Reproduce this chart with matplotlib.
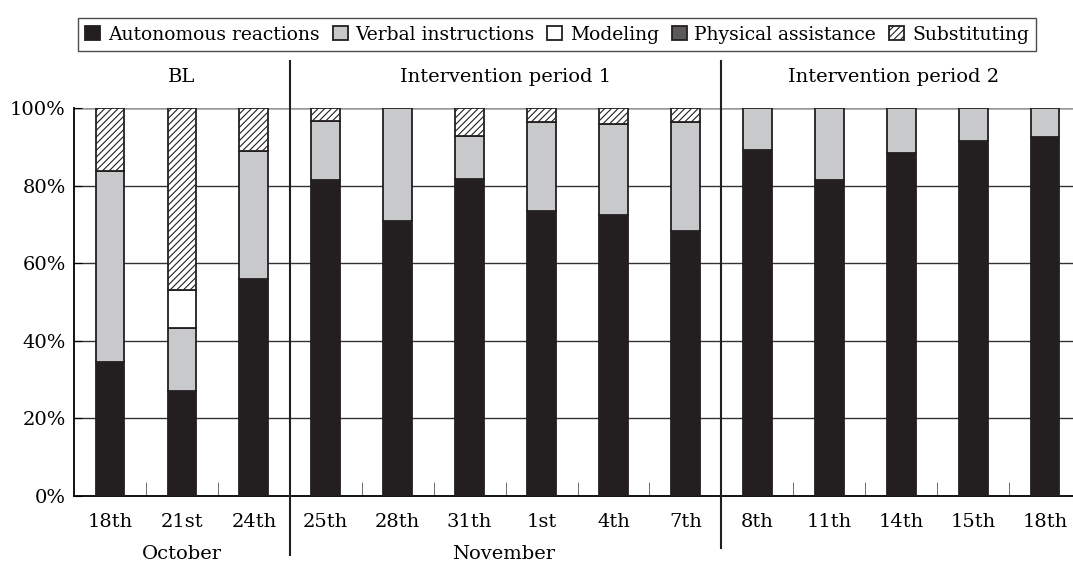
# Stacked percentage bars by session date
import numpy as np
import matplotlib.pyplot as plt

plt.rcParams['font.family'] = ['DejaVu Serif']

days = ['18th', '21st', '24th', '25th', '28th', '31th', '1st', '4th', '7th',
        '8th', '11th', '14th', '15th', '18th']
autonomous = [34.5, 27.1, 56.0, 81.4, 70.8, 81.8, 73.5, 72.5, 68.2,
              89.2, 81.5, 88.4, 91.5, 92.5]
verbal = [49.3, 16.1, 33.0, 15.2, 29.2, 10.9, 23.0, 23.3, 28.3,
          10.8, 18.5, 11.6, 8.5, 7.5]
modeling = [0, 10.0, 0, 0, 0, 0, 0, 0, 0, 0, 0, 0, 0, 0]
physical = [0, 0, 0, 0, 0, 0, 0, 0, 0, 0, 0, 0, 0, 0]
substituting = [16.2, 46.8, 11.0, 3.4, 0, 7.3, 3.5, 4.2, 3.5,
                0, 0, 0, 0, 0]

series = [('Autonomous reactions', autonomous, '#231f20', None),
          ('Verbal instructions', verbal, '#c8c9ca', None),
          ('Modeling', modeling, 'white', None),
          ('Physical assistance', physical, '#5a5a5a', None),
          ('Substituting', substituting, 'white', '/////')]

periods = ['BL', 'Intervention period 1', 'Intervention period 2']
months = ['October', 'November']

fig = plt.figure(figsize=(10.73, 5.69), dpi=100)
ax = fig.add_axes([0.069, 0.1283, 0.9385, 0.6819])

x = np.arange(len(days))
bottom = np.zeros(len(days))
plt.rcParams['hatch.linewidth'] = 0.8
handles = []
for name, vals, col, hatch in series:
    vals = np.array(vals, dtype=float)
    mask = vals > 0
    ax.bar(x[mask], vals[mask], 0.4, bottom=bottom[mask], color=col,
           edgecolor='#231f20', linewidth=1.3, hatch=hatch, zorder=3)
    h = plt.Rectangle((0, 0), 1, 1, facecolor=col, edgecolor='#231f20',
                      linewidth=1.3, hatch=hatch)
    handles.append((h, name))
    bottom += vals

ax.set_xlim(-0.5, 13.5)
ax.set_ylim(0, 100)
ax.set_yticks([0, 20, 40, 60, 80, 100])
ax.set_yticklabels(['0%', '20%', '40%', '60%', '80%', '100%'], fontsize=14)
for yv in [20, 40, 60, 80]:
    ax.axhline(yv, color='#333333', linewidth=1.0, zorder=1)
ax.axhline(100, color='#999999', linewidth=1.8, zorder=1)

ax.set_xticks(x)
ax.set_xticklabels(days, fontsize=14)
ax.set_xticks(np.arange(0.5, 13.5, 1), minor=True)
ax.tick_params(axis='x', which='major', length=0, pad=12)
ax.tick_params(axis='x', which='minor', direction='in', length=10,
               color='#555555')
ax.tick_params(axis='y', direction='in', length=6, pad=6)

for s in ['top', 'right']:
    ax.spines[s].set_visible(False)
ax.spines['left'].set_linewidth(1.3)
ax.spines['bottom'].set_linewidth(1.3)

# phase separators
ax.plot([2.5, 2.5], [112, -15.2], color='#231f20', linewidth=1.5,
        clip_on=False, zorder=4)
ax.plot([8.5, 8.5], [112, -13.4], color='#231f20', linewidth=1.5,
        clip_on=False, zorder=4)

for label, px in zip(periods, [1, 5.5, 10.9]):
    ax.text(px, 108, label, ha='center', va='center', fontsize=14)
for label, px in zip(months, [1, 5.47]):
    ax.text(px, -15, label, ha='center', va='center', fontsize=14)

leg = fig.legend([h for h, n in handles], [n for h, n in handles],
                 loc='center', bbox_to_anchor=(557 / 1073, 1 - 34.5 / 569),
                 ncol=5, fontsize=13.5, frameon=True, fancybox=False,
                 handlelength=0.8, handleheight=0.8, handletextpad=0.4,
                 columnspacing=0.7, borderpad=0.4, borderaxespad=0)
leg.get_frame().set_edgecolor('#231f20')
leg.get_frame().set_linewidth(1.0)

fig.savefig('out.png', dpi=100)
